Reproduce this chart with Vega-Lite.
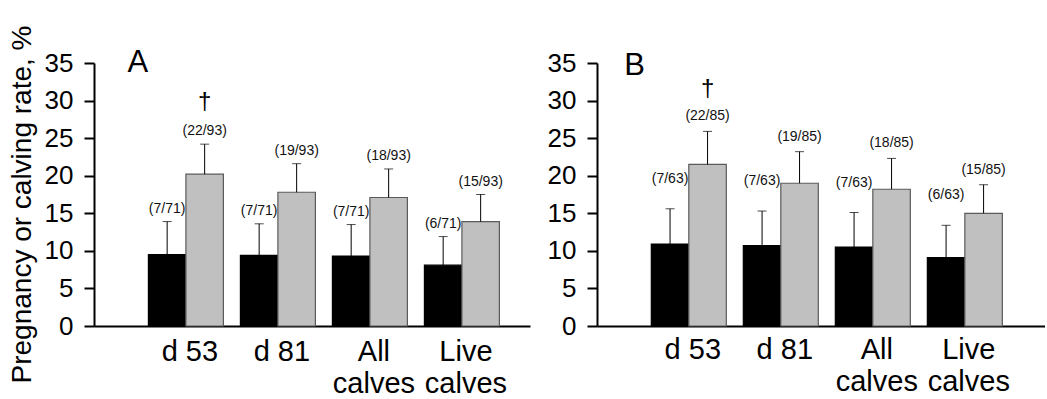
{
  "$schema": "https://vega.github.io/schema/vega-lite/v6.json",
  "padding": {"left": 8, "top": 25, "right": 0, "bottom": 0},
  "background": "white",
  "config": {
    "view": {"stroke": null},
    "font": "Liberation Sans",
    "concat": {"spacing": 17},
    "axis": {"grid": false, "domainColor": "black", "tickColor": "black", "labelColor": "black", "titleColor": "black", "labelFont": "Liberation Sans", "titleFont": "Liberation Sans", "labelOverlap": false},
    "axisY": {"labelOverlap": false}
  },
  "datasets": {
    "A": [
      {"cat": "d 53", "grp": "Control", "value": 9.5, "err": 13.9, "label": "(7/71)", "sig": ""},
      {"cat": "d 53", "grp": "Treatment", "value": 20.2, "err": 24.2, "label": "(22/93)", "sig": "†"},
      {"cat": "d 81", "grp": "Control", "value": 9.4, "err": 13.6, "label": "(7/71)", "sig": ""},
      {"cat": "d 81", "grp": "Treatment", "value": 17.8, "err": 21.6, "label": "(19/93)", "sig": ""},
      {"cat": "All calves", "grp": "Control", "value": 9.3, "err": 13.5, "label": "(7/71)", "sig": ""},
      {"cat": "All calves", "grp": "Treatment", "value": 17.1, "err": 20.9, "label": "(18/93)", "sig": ""},
      {"cat": "Live calves", "grp": "Control", "value": 8.1, "err": 11.9, "label": "(6/71)", "sig": ""},
      {"cat": "Live calves", "grp": "Treatment", "value": 13.9, "err": 17.5, "label": "(15/93)", "sig": ""}
    ],
    "B": [
      {"cat": "d 53", "grp": "Control", "value": 10.9, "err": 15.6, "label": "(7/63)", "sig": ""},
      {"cat": "d 53", "grp": "Treatment", "value": 21.5, "err": 25.9, "label": "(22/85)", "sig": "†"},
      {"cat": "d 81", "grp": "Control", "value": 10.7, "err": 15.3, "label": "(7/63)", "sig": ""},
      {"cat": "d 81", "grp": "Treatment", "value": 19.0, "err": 23.2, "label": "(19/85)", "sig": ""},
      {"cat": "All calves", "grp": "Control", "value": 10.5, "err": 15.1, "label": "(7/63)", "sig": ""},
      {"cat": "All calves", "grp": "Treatment", "value": 18.2, "err": 22.3, "label": "(18/85)", "sig": ""},
      {"cat": "Live calves", "grp": "Control", "value": 9.1, "err": 13.4, "label": "(6/63)", "sig": ""},
      {"cat": "Live calves", "grp": "Treatment", "value": 15.0, "err": 18.8, "label": "(15/85)", "sig": ""}
    ]
  },
  "hconcat": [
    {
      "width": 436,
      "height": 263,
      "data": {"name": "A"},
      "encoding": {
        "x": {"field": "cat", "type": "nominal", "sort": ["d 53", "d 81", "All calves", "Live calves"],
          "scale": {"domain": ["d 53", "d 81", "All calves", "Live calves"], "paddingInner": 0.185, "paddingOuter": 0.462, "align": 0.64},
          "axis": {"title": null, "ticks": false, "domainWidth": 2, "labelFontSize": 29, "labelAngle": 0, "labelPadding": 11, "labelLineHeight": 32, "labelOffset": 4,
            "labelExpr": "datum.label == 'All calves' ? ['All', 'calves'] : datum.label == 'Live calves' ? ['Live', 'calves'] : datum.label"}},
        "xOffset": {"field": "grp", "type": "nominal", "sort": ["Control", "Treatment"], "scale": {"paddingInner": 0, "paddingOuter": 0}}
      },
      "layer": [
        {
          "mark": {"type": "bar", "strokeWidth": 1.2},
          "encoding": {
            "y": {"field": "value", "type": "quantitative", "scale": {"domain": [0, 35], "nice": false},
              "axis": {"values": [0, 5, 10, 15, 20, 25, 30, 35], "labelOverlap": false, "domainWidth": 2, "tickWidth": 2, "tickSize": 10, "labelFontSize": 26, "labelPadding": 11,
                "title": "Pregnancy or calving rate, %", "titleFontSize": 28, "titleFontWeight": "normal", "titlePadding": 8, "titleY": 141}},
            "fill": {"field": "grp", "type": "nominal", "scale": {"domain": ["Control", "Treatment"], "range": ["#000000", "#c0c0c0"]}, "legend": null},
            "stroke": {"field": "grp", "type": "nominal", "scale": {"domain": ["Control", "Treatment"], "range": ["#000000", "#5a5a5a"]}, "legend": null}
          }
        },
        {
          "mark": {"type": "rule", "color": "black", "strokeWidth": 1},
          "encoding": {"y": {"field": "value", "type": "quantitative",
              "axis": {"values": [0, 5, 10, 15, 20, 25, 30, 35], "labelOverlap": false, "domainWidth": 2, "tickWidth": 2, "tickSize": 10, "labelFontSize": 26, "labelPadding": 11,
                "title": "Pregnancy or calving rate, %", "titleFontSize": 28, "titleFontWeight": "normal", "titlePadding": 8, "titleY": 141}}, "y2": {"field": "err"}}
        },
        {
          "mark": {"type": "tick", "orient": "horizontal", "color": "black", "size": 9, "thickness": 1},
          "encoding": {"y": {"field": "err", "type": "quantitative",
              "axis": {"values": [0, 5, 10, 15, 20, 25, 30, 35], "labelOverlap": false, "domainWidth": 2, "tickWidth": 2, "tickSize": 10, "labelFontSize": 26, "labelPadding": 11,
                "title": "Pregnancy or calving rate, %", "titleFontSize": 28, "titleFontWeight": "normal", "titlePadding": 8, "titleY": 141}}}
        },
        {
          "mark": {"type": "text", "fontSize": 14, "dy": -9, "baseline": "alphabetic", "color": "#111"},
          "encoding": {"y": {"field": "err", "type": "quantitative",
              "axis": {"values": [0, 5, 10, 15, 20, 25, 30, 35], "labelOverlap": false, "domainWidth": 2, "tickWidth": 2, "tickSize": 10, "labelFontSize": 26, "labelPadding": 11,
                "title": "Pregnancy or calving rate, %", "titleFontSize": 28, "titleFontWeight": "normal", "titlePadding": 8, "titleY": 141}}, "text": {"field": "label"}}
        },
        {
          "mark": {"type": "text", "fontSize": 24, "dy": -35, "baseline": "alphabetic", "color": "black"},
          "encoding": {"y": {"field": "err", "type": "quantitative",
              "axis": {"values": [0, 5, 10, 15, 20, 25, 30, 35], "labelOverlap": false, "domainWidth": 2, "tickWidth": 2, "tickSize": 10, "labelFontSize": 26, "labelPadding": 11,
                "title": "Pregnancy or calving rate, %", "titleFontSize": 28, "titleFontWeight": "normal", "titlePadding": 8, "titleY": 141}}, "text": {"field": "sig"}}
        },
        {
          "data": {"values": [{"panel": "A", "cat": "d 53", "top": 35}]},
          "mark": {"type": "text", "fontSize": 31, "align": "left", "baseline": "alphabetic", "dx": -21, "dy": 9, "color": "black"},
          "encoding": {"x": {"field": "cat", "type": "nominal"}, "xOffset": {"value": 0}, "y": {"field": "top", "type": "quantitative",
              "axis": {"values": [0, 5, 10, 15, 20, 25, 30, 35], "labelOverlap": false, "domainWidth": 2, "tickWidth": 2, "tickSize": 10, "labelFontSize": 26, "labelPadding": 11,
                "title": "Pregnancy or calving rate, %", "titleFontSize": 28, "titleFontWeight": "normal", "titlePadding": 8, "titleY": 141}}, "text": {"field": "panel"}}
        }
      ]
    },
    {
      "width": 448,
      "height": 263,
      "data": {"name": "B"},
      "encoding": {
        "x": {"field": "cat", "type": "nominal", "sort": ["d 53", "d 81", "All calves", "Live calves"],
          "scale": {"domain": ["d 53", "d 81", "All calves", "Live calves"], "paddingInner": 0.185, "paddingOuter": 0.527, "align": 0.56},
          "axis": {"title": null, "ticks": false, "domainWidth": 2, "labelFontSize": 29, "labelAngle": 0, "labelPadding": 9, "labelLineHeight": 32, "labelOffset": 4,
            "labelExpr": "datum.label == 'All calves' ? ['All', 'calves'] : datum.label == 'Live calves' ? ['Live', 'calves'] : datum.label"}},
        "xOffset": {"field": "grp", "type": "nominal", "sort": ["Control", "Treatment"], "scale": {"paddingInner": 0, "paddingOuter": 0}}
      },
      "layer": [
        {
          "mark": {"type": "bar", "strokeWidth": 1.2},
          "encoding": {
            "y": {"field": "value", "type": "quantitative", "scale": {"domain": [0, 35], "nice": false},
              "axis": {"values": [0, 5, 10, 15, 20, 25, 30, 35], "labelOverlap": false, "domainWidth": 2, "tickWidth": 2, "tickSize": 10, "labelFontSize": 26, "labelPadding": 11, "title": null}},
            "fill": {"field": "grp", "type": "nominal", "scale": {"domain": ["Control", "Treatment"], "range": ["#000000", "#c0c0c0"]}, "legend": null},
            "stroke": {"field": "grp", "type": "nominal", "scale": {"domain": ["Control", "Treatment"], "range": ["#000000", "#5a5a5a"]}, "legend": null}
          }
        },
        {
          "mark": {"type": "rule", "color": "black", "strokeWidth": 1},
          "encoding": {"y": {"field": "value", "type": "quantitative",
              "axis": {"values": [0, 5, 10, 15, 20, 25, 30, 35], "labelOverlap": false, "domainWidth": 2, "tickWidth": 2, "tickSize": 10, "labelFontSize": 26, "labelPadding": 11, "title": null}}, "y2": {"field": "err"}}
        },
        {
          "mark": {"type": "tick", "orient": "horizontal", "color": "black", "size": 9, "thickness": 1},
          "encoding": {"y": {"field": "err", "type": "quantitative",
              "axis": {"values": [0, 5, 10, 15, 20, 25, 30, 35], "labelOverlap": false, "domainWidth": 2, "tickWidth": 2, "tickSize": 10, "labelFontSize": 26, "labelPadding": 11, "title": null}}}
        },
        {
          "transform": [{"filter": "datum.grp == 'Control'"}],
          "mark": {"type": "text", "fontSize": 14, "dy": -26, "baseline": "alphabetic", "color": "#111"},
          "encoding": {"y": {"field": "err", "type": "quantitative",
              "axis": {"values": [0, 5, 10, 15, 20, 25, 30, 35], "labelOverlap": false, "domainWidth": 2, "tickWidth": 2, "tickSize": 10, "labelFontSize": 26, "labelPadding": 11, "title": null}}, "text": {"field": "label"}}
        },
        {
          "transform": [{"filter": "datum.grp == 'Treatment'"}],
          "mark": {"type": "text", "fontSize": 14, "dy": -11, "baseline": "alphabetic", "color": "#111"},
          "encoding": {"y": {"field": "err", "type": "quantitative",
              "axis": {"values": [0, 5, 10, 15, 20, 25, 30, 35], "labelOverlap": false, "domainWidth": 2, "tickWidth": 2, "tickSize": 10, "labelFontSize": 26, "labelPadding": 11, "title": null}}, "text": {"field": "label"}}
        },
        {
          "mark": {"type": "text", "fontSize": 24, "dy": -35, "baseline": "alphabetic", "color": "black"},
          "encoding": {"y": {"field": "err", "type": "quantitative",
              "axis": {"values": [0, 5, 10, 15, 20, 25, 30, 35], "labelOverlap": false, "domainWidth": 2, "tickWidth": 2, "tickSize": 10, "labelFontSize": 26, "labelPadding": 11, "title": null}}, "text": {"field": "sig"}}
        },
        {
          "data": {"values": [{"panel": "B", "cat": "d 53", "top": 35}]},
          "mark": {"type": "text", "fontSize": 31, "align": "left", "baseline": "alphabetic", "dx": -27, "dy": 12, "color": "black"},
          "encoding": {"x": {"field": "cat", "type": "nominal"}, "xOffset": {"value": 0}, "y": {"field": "top", "type": "quantitative",
              "axis": {"values": [0, 5, 10, 15, 20, 25, 30, 35], "labelOverlap": false, "domainWidth": 2, "tickWidth": 2, "tickSize": 10, "labelFontSize": 26, "labelPadding": 11, "title": null}}, "text": {"field": "panel"}}
        }
      ]
    }
  ],
  "resolve": {"scale": {"x": "independent", "y": "independent", "xOffset": "independent", "fill": "independent", "stroke": "independent"}}
}
